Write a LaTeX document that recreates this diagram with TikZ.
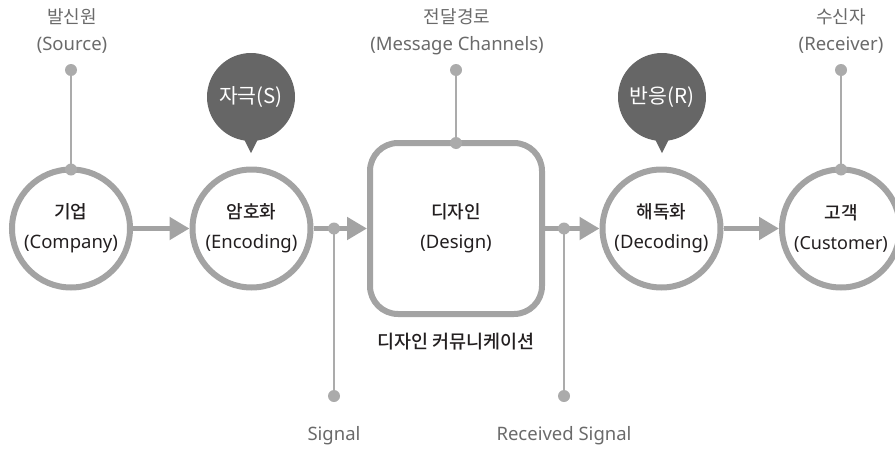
\documentclass[tikz,border=0pt]{standalone}
\usepackage{fontspec}
\setmainfont{Noto Sans CJK KR}
\newfontfamily\latinface{Noto Sans}
\newfontfamily\krmedium{Noto Sans CJK KR Medium}
\usetikzlibrary{arrows.meta,calc}
\definecolor{ringgray}{HTML}{A3A3A3}
\definecolor{wiregray}{HTML}{ABABAB}
\definecolor{bubblegray}{HTML}{666666}
\definecolor{labelgray}{HTML}{6A6A6A}
\definecolor{inkblack}{HTML}{231F20}
% Korean line / Latin line inside two-line labels
\newcommand{\kr}[1]{{\fontsize{18}{30}\selectfont #1}}
\newcommand{\krm}[1]{{\krmedium\fontsize{18}{30}\selectfont #1}}
\newcommand{\lt}[1]{{\latinface\fontsize{18.5}{30}\selectfont #1}}
\newcommand{\ltn}[1]{{\latinface\fontsize{18}{30}\selectfont #1}}
\tikzset{
  stage/.style={circle, draw=ringgray, line width=6pt, fill=white, minimum size=118pt,
    inner sep=0pt, align=center, text=inkblack, font=\fontsize{18}{30}\selectfont},
  designbox/.style={rectangle, rounded corners=28pt, draw=ringgray, line width=6pt, fill=white,
    minimum width=172pt, minimum height=171pt, align=center, text=inkblack,
    font=\fontsize{18}{30}\selectfont},
  flow/.style={draw=ringgray, line width=5pt, -{Triangle[length=20pt,width=22pt]}},
  wire/.style={draw=wiregray, line width=2pt},
  joint/.style={fill=wiregray},
  toplabel/.style={align=center, text=labelgray, font=\fontsize{18}{27}\selectfont},
  sublabel/.style={text=labelgray, font=\latinface\fontsize{18.5}{20}\selectfont},
  bubble/.style={circle, fill=bubblegray, minimum size=88pt, inner sep=0pt, text=white,
    font=\fontsize{20.5}{22}\selectfont},
}
\begin{document}
\begin{tikzpicture}[x=1pt, y=-1pt]
\useasboundingbox (0,0) rectangle (895,450);
\clip (0,0) rectangle (895,450);

% stages of the communication process
\node[stage] (comp) at (71,228.5) {\krm{기업}\\\lt{(Company)}};
\node[stage] (enc) at (251.5,228.5) {\krm{암호화}\\\lt{(Encoding)}};
\node[designbox] (des) at (456,228.5) {\krm{디자인}\\\lt{(Design)}};
\node[stage] (dec) at (661.5,228.5) {\krm{해독화}\\\lt{(Decoding)}};
\node[stage] (cust) at (841,228.5) {\krm{고객}\\\ltn{(Customer)}};

% junctions on the main flow
\coordinate (sig) at (334,228.5);
\coordinate (rsig) at (564,228.5);

% main flow arrows
\draw[flow] (comp) -- (enc);
\draw[flow] (enc) -- (des);
\draw[flow] (des) -- (dec);
\draw[flow] (dec) -- (cust);

% role labels above
\node[toplabel] (src) at (72,31.5) {\kr{발신원}\\\lt{(Source)}};
\node[toplabel] (chan) at (457,31.5) {\kr{전달경로}\\\lt{(Message Channels)}};
\node[toplabel] (recv) at (841,31.5) {\kr{수신자}\\\lt{(Receiver)}};

\coordinate (srcdot) at (71,70);
\coordinate (chandot) at (456,70);
\coordinate (recvdot) at (841,70);
\coordinate (comptop) at ([yshift=-3pt]comp.north);
\coordinate (destop) at ([yshift=-3pt]des.north);
\coordinate (custtop) at ([yshift=-3pt]cust.north);

\draw[wire] (srcdot) -- (comptop);
\draw[wire] (chandot) -- (destop);
\draw[wire] (recvdot) -- (custtop);
\foreach \p in {srcdot,chandot,recvdot,comptop,destop,custtop}
  \fill[joint] (\p) circle (6pt);

% signal taps below
\coordinate (sigdot) at (334,396);
\coordinate (rsigdot) at (564,396);
\draw[wire] (sig) -- (sigdot);
\draw[wire] (rsig) -- (rsigdot);
\foreach \p in {sig,rsig,sigdot,rsigdot}
  \fill[joint] (\p) circle (6pt);
\node[sublabel] (siglab) at (334,436) {Signal};
\node[sublabel] (rsiglab) at (564,436) {Received Signal};

% caption under the design box
\node[text=inkblack, font=\krmedium\fontsize{18.5}{22}\selectfont] (cap) at (456,342) {디자인 커뮤니케이션};

% stimulus and response bubbles
\node[bubble] (stim) at (251,97) {자극(S)};
\fill[bubblegray] ($(stim.south)+(-10,-8)$) -- ($(stim.south)+(0,12)$) -- ($(stim.south)+(10,-8)$) -- cycle;
\node[bubble] (resp) at (662,97) {반응(R)};
\fill[bubblegray] ($(resp.south)+(-10,-8)$) -- ($(resp.south)+(0,12)$) -- ($(resp.south)+(10,-8)$) -- cycle;
\end{tikzpicture}
\end{document}
